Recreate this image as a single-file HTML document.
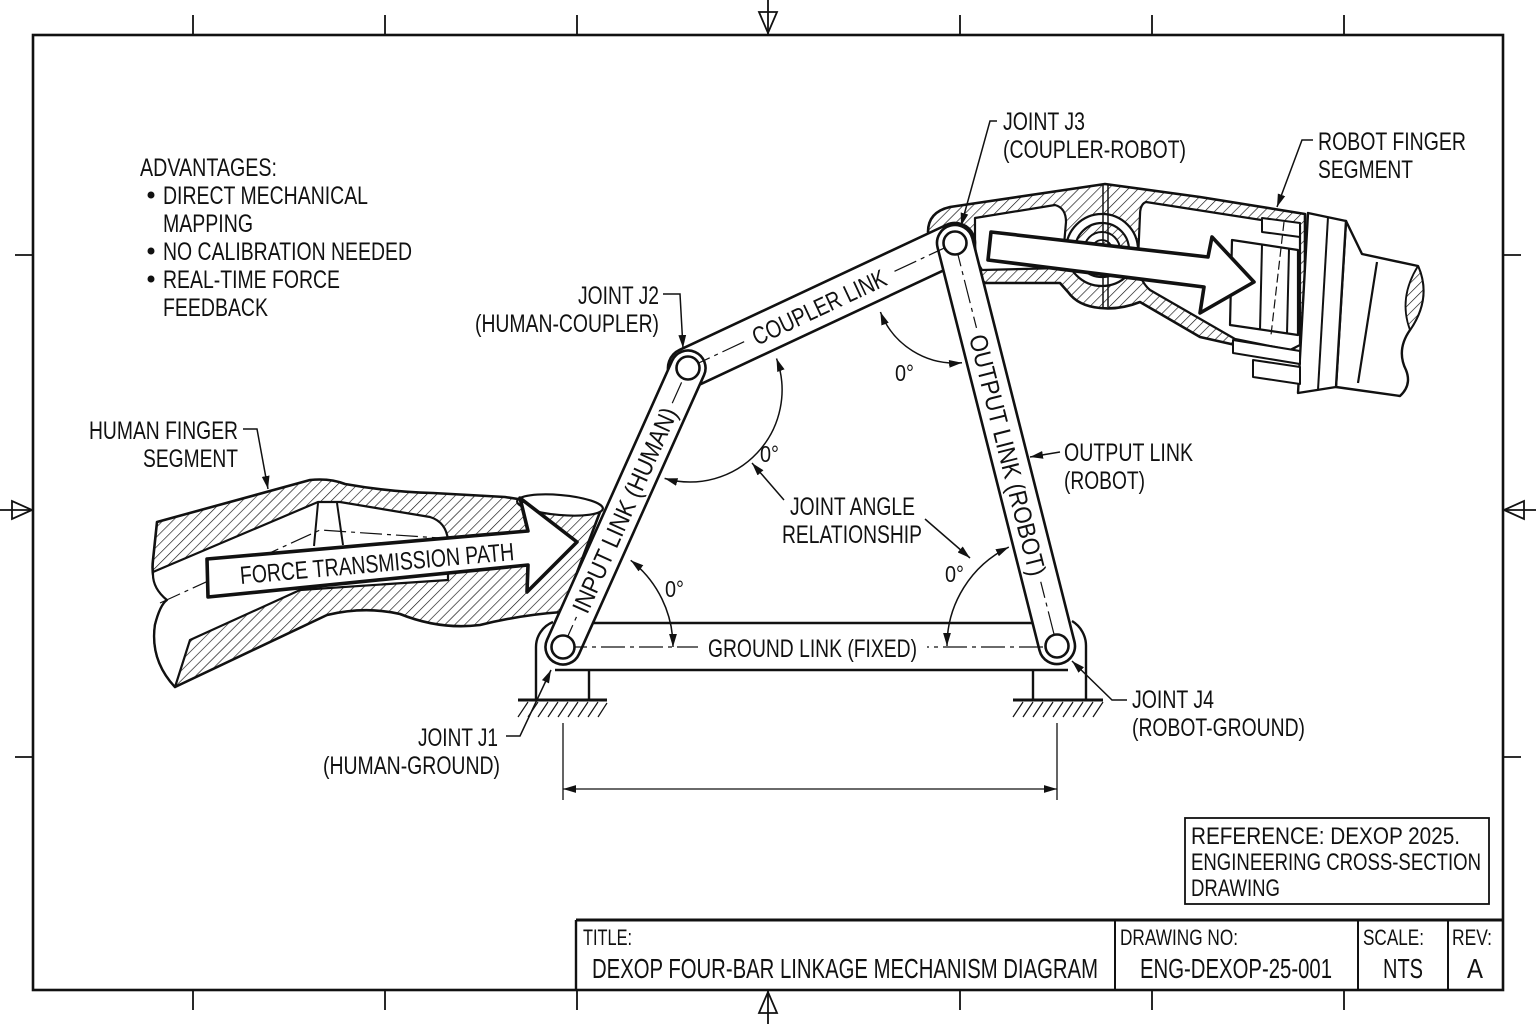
<!DOCTYPE html>
<html>
<head>
<meta charset="utf-8">
<style>
html,body{margin:0;padding:0;background:#fff;}
svg{display:block;}
text{font-family:"Liberation Sans",Arial,sans-serif;fill:#111;}
</style>
</head>
<body>
<svg width="1536" height="1024" viewBox="0 0 1536 1024" xmlns="http://www.w3.org/2000/svg">
<defs>
  <pattern id="h" width="7" height="7" patternUnits="userSpaceOnUse" patternTransform="rotate(45)">
    <rect width="7" height="7" fill="#fff"/>
    <line x1="0" y1="0" x2="0" y2="7" stroke="#111" stroke-width="1.3"/>
  </pattern>
  <marker id="a" viewBox="0 0 10 10" refX="10" refY="5" markerWidth="13" markerHeight="13" markerUnits="userSpaceOnUse" orient="auto-start-reverse">
    <path d="M0,2 L10,5 L0,8 Z" fill="#111"/>
  </marker>
</defs>
<rect width="1536" height="1024" fill="#fff"/>

<!-- BORDER -->
<g stroke="#111" fill="none">
  <rect x="33" y="35" width="1470" height="955" stroke-width="2.6"/>
  <g stroke-width="1.8">
    <line x1="193" y1="15" x2="193" y2="35"/><line x1="385" y1="15" x2="385" y2="35"/><line x1="577" y1="15" x2="577" y2="35"/>
    <line x1="960" y1="15" x2="960" y2="35"/><line x1="1152" y1="15" x2="1152" y2="35"/><line x1="1344" y1="15" x2="1344" y2="35"/>
    <line x1="193" y1="990" x2="193" y2="1010"/><line x1="385" y1="990" x2="385" y2="1010"/><line x1="577" y1="990" x2="577" y2="1010"/>
    <line x1="960" y1="990" x2="960" y2="1010"/><line x1="1152" y1="990" x2="1152" y2="1010"/><line x1="1344" y1="990" x2="1344" y2="1010"/>
    <line x1="15" y1="255" x2="33" y2="255"/><line x1="15" y1="757" x2="33" y2="757"/>
    <line x1="1503" y1="255" x2="1521" y2="255"/><line x1="1503" y1="757" x2="1521" y2="757"/>
    <line x1="768" y1="0" x2="768" y2="35"/><path d="M759,12 L777,12 L768,33 Z"/>
    <line x1="768" y1="990" x2="768" y2="1024"/><path d="M759,1013 L777,1013 L768,992 Z"/>
    <line x1="0" y1="510" x2="33" y2="510"/><path d="M12,501 L12,519 L32,510 Z"/>
    <line x1="1503" y1="510" x2="1536" y2="510"/><path d="M1524,501 L1524,519 L1504,510 Z"/>
  </g>
</g>

<!-- HUMAN FINGER -->
<g stroke="#111" stroke-linejoin="round">
  <path d="M157,522 L310,480 Q330,478 345,484 Q390,492 433,493 L505,497 L600,512 L562,612 Q520,615 480,625 Q440,630 400,614 Q365,606 327,615 L175,687 Q150,660 155,625 Q160,605 167,600 Q150,585 153,560 Z" fill="url(#h)" stroke-width="2.6"/>
  <path d="M153,572 L318,502 L340,502 L430,517 Q446,522 448,540 L448,580 L300,590 L190,640 L175,687 Q150,660 155,625 Q160,605 167,600 Q152,588 153,572 Z" fill="#fff" stroke-width="2.2"/>
  <path d="M175,687 Q150,660 155,625 Q160,605 167,600" fill="none" stroke-width="1.5"/>
  <line x1="318" y1="503" x2="314" y2="546" stroke-width="2"/>
  <line x1="337" y1="503" x2="343" y2="545" stroke-width="2"/>
  <polyline points="160,603 320,530 440,538" fill="none" stroke-width="1.2" stroke-dasharray="22 5 4 5"/>
  <ellipse cx="560" cy="505" rx="43" ry="10" transform="rotate(5 560 505)" fill="#fff" stroke-width="2.2"/>
  <path d="M207,559 L528,531 L520,498 L577,542 L527,592 L528,565 L208,597 Z" fill="#fff" stroke-width="3.6"/>
</g>
<text transform="translate(377,563) rotate(-5)" x="0" y="9" text-anchor="middle" font-size="25" textLength="275" lengthAdjust="spacingAndGlyphs">FORCE TRANSMISSION PATH</text>

<!-- ROBOT FINGER -->
<g stroke="#111" stroke-linejoin="round">
  <path d="M928,232 Q928,212 950,207 L1105,184 L1200,197 L1305,214 L1305,358 L1293,358 L1200,337 L1140,302 Q1120,310 1100,308 Q1078,306 1068,292 L1060,283 L985,283 Z" fill="url(#h)" stroke-width="2.6"/>
  <path d="M975,218 L1055,205 Q1066,208 1066,222 L1062,268 L982,270 Q975,260 975,240 Z" fill="#fff" stroke-width="2.2"/>
  <path d="M1146,202 L1300,226 L1300,345 L1290,350 L1235,339 L1150,290 Q1138,280 1138,260 L1140,215 Q1140,204 1146,202 Z" fill="#fff" stroke-width="2.2"/>
  <circle cx="1102" cy="250" r="36" fill="#fff" stroke-width="2.2"/>
  <circle cx="1102" cy="250" r="27" fill="url(#h)" stroke-width="2.2"/>
  <circle cx="1102" cy="250" r="18" fill="#fff" stroke-width="2"/>
  <circle cx="1102" cy="250" r="10" fill="url(#h)" stroke-width="1.8"/>
  <line x1="1103" y1="185" x2="1103" y2="307" stroke-width="1.5"/>
  <line x1="1108" y1="185" x2="1108" y2="307" stroke-width="1.5"/>
  <!-- end assembly -->
  <path d="M1346,221 L1362,254 L1418,266 Q1432,298 1410,330 Q1396,350 1406,370 Q1412,385 1400,396 L1336,387 Z" fill="#fff" stroke-width="2.4"/>
  <path d="M1418,266 Q1432,298 1410,330 Q1398,298 1418,266 Z" fill="url(#h)" stroke-width="1.8"/>
  <line x1="1377" y1="262" x2="1358" y2="383" stroke-width="2.2"/>
  <path d="M1308,213 L1346,221 L1336,387 L1298,393 Z" fill="#fff" stroke-width="2.4"/>
  <line x1="1328" y1="217" x2="1318" y2="390" stroke-width="2"/>
  <path d="M1262,218 L1300,223 L1300,237 L1262,232 Z" fill="#fff" stroke-width="2"/>
  <path d="M1232,240 L1298,250 L1298,335 L1230,325 Z" fill="#fff" stroke-width="2.2"/>
  <line x1="1262" y1="245" x2="1260" y2="330" stroke-width="2"/>
  <line x1="1289" y1="249" x2="1287" y2="334" stroke-width="2"/>
  <path d="M1233,340 L1300,351 L1300,364 L1233,353 Z" fill="#fff" stroke-width="2"/>
  <path d="M1253,360 L1300,367 L1300,384 L1253,377 Z" fill="#fff" stroke-width="2"/>
  <line x1="1284" y1="222" x2="1271" y2="335" stroke-width="1.2" stroke-dasharray="9 4"/>
  <path d="M991,232 L1208,257 L1212,237 L1254,282 L1200,313 L1204,287 L988,260 Z" fill="#fff" stroke-width="3.6"/>
</g>

<!-- GROUND SUPPORTS -->
<g stroke="#111" fill="none">
  <line x1="518" y1="700" x2="607" y2="700" stroke-width="3"/>
  <line x1="1013" y1="700" x2="1103" y2="700" stroke-width="3"/>
  <line x1="589" y1="670" x2="589" y2="700" stroke-width="2.4"/>
  <line x1="1033" y1="670" x2="1033" y2="700" stroke-width="2.4"/>
  <path d="M536,700 L536,647 A27,27 0 0 1 553,622" stroke-width="2.4"/>
  <path d="M1086,700 L1086,646 A29,29 0 0 0 1072,621" stroke-width="2.4"/>
  <g stroke-width="1.2">
    <line x1="518" y1="717" x2="528" y2="702"/><line x1="528" y1="717" x2="538" y2="702"/><line x1="538" y1="717" x2="548" y2="702"/>
    <line x1="548" y1="717" x2="558" y2="702"/><line x1="558" y1="717" x2="568" y2="702"/><line x1="568" y1="717" x2="578" y2="702"/>
    <line x1="578" y1="717" x2="588" y2="702"/><line x1="588" y1="717" x2="598" y2="702"/><line x1="598" y1="717" x2="607" y2="703"/>
    <line x1="1013" y1="717" x2="1023" y2="702"/><line x1="1023" y1="717" x2="1033" y2="702"/><line x1="1033" y1="717" x2="1043" y2="702"/>
    <line x1="1043" y1="717" x2="1053" y2="702"/><line x1="1053" y1="717" x2="1063" y2="702"/><line x1="1063" y1="717" x2="1073" y2="702"/>
    <line x1="1073" y1="717" x2="1083" y2="702"/><line x1="1083" y1="717" x2="1093" y2="702"/><line x1="1093" y1="717" x2="1103" y2="702"/>
  </g>
</g>

<!-- GROUND LINK -->
<rect x="560" y="623" width="500" height="47" fill="#fff"/>
<line x1="575" y1="623" x2="1045" y2="623" stroke="#111" stroke-width="2.6"/>
<line x1="555" y1="670" x2="1068" y2="670" stroke="#111" stroke-width="2.6"/>

<!-- LINKS -->
<g fill="#fff" stroke="#111" stroke-width="2.6">
  <g transform="translate(688,368) rotate(-25.09)"><rect x="-20" y="-20" width="334.8" height="40" rx="20"/></g>
  <g transform="translate(563,647) rotate(-65.86)"><rect x="-17.5" y="-17.5" width="340.7" height="35" rx="17.5"/></g>
  <g transform="translate(955,243) rotate(75.8)"><rect x="-18" y="-18" width="451.7" height="36" rx="18"/></g>
</g>

<!-- CENTERLINES -->
<g stroke="#111" stroke-width="1.2" stroke-dasharray="24 5 4 5" fill="none">
  <line x1="563" y1="647" x2="1057" y2="647"/>
  <line x1="563" y1="647" x2="688" y2="368"/>
  <line x1="688" y1="368" x2="955" y2="243"/>
  <line x1="955" y1="243" x2="1057" y2="646"/>
</g>

<!-- LINK LABELS -->
<rect x="698" y="635" width="229" height="26" fill="#fff"/>
<text x="708" y="657" font-size="25" textLength="209" lengthAdjust="spacingAndGlyphs">GROUND LINK (FIXED)</text>
<g transform="translate(624.4,510) rotate(-65.86)">
  <rect x="-117" y="-13" width="234" height="26" fill="#fff"/>
  <text x="0" y="9" text-anchor="middle" font-size="25" textLength="222" lengthAdjust="spacingAndGlyphs">INPUT LINK (HUMAN)</text>
</g>
<g transform="translate(819,307) rotate(-25.09)">
  <rect x="-80" y="-13" width="160" height="26" fill="#fff"/>
  <text x="0" y="9" text-anchor="middle" font-size="25" textLength="145" lengthAdjust="spacingAndGlyphs">COUPLER LINK</text>
</g>
<g transform="translate(1008,455) rotate(75.8)">
  <rect x="-131" y="-13" width="262" height="26" fill="#fff"/>
  <text x="0" y="9" text-anchor="middle" font-size="25" textLength="248" lengthAdjust="spacingAndGlyphs">OUTPUT LINK (ROBOT)</text>
</g>

<!-- PINS -->
<g fill="#fff" stroke="#111" stroke-width="2.6">
  <circle cx="563" cy="647" r="11.5"/>
  <circle cx="688" cy="368" r="11.5"/>
  <circle cx="955" cy="243" r="11.5"/>
  <circle cx="1057" cy="646" r="11.5"/>
</g>

<!-- ANGLE ARCS -->
<g stroke="#111" stroke-width="1.5" fill="none" marker-start="url(#a)" marker-end="url(#a)">
  <path d="M630.7,560.3 A110,110 0 0 1 673,647"/>
  <path d="M947,646 A110,110 0 0 1 1008.8,547.1"/>
  <path d="M776.5,358.5 A92,92 0 0 1 664.6,478.4"/>
  <path d="M880.4,312 A80,80 0 0 0 962,362.7"/>
</g>
<g font-size="23">
  <text x="665" y="597" textLength="19" lengthAdjust="spacingAndGlyphs">0°</text>
  <text x="760" y="462" textLength="19" lengthAdjust="spacingAndGlyphs">0°</text>
  <text x="895" y="381" textLength="19" lengthAdjust="spacingAndGlyphs">0°</text>
  <text x="945" y="582" textLength="19" lengthAdjust="spacingAndGlyphs">0°</text>
</g>

<!-- LEADERS -->
<g stroke="#111" stroke-width="1.5" fill="none">
  <polyline points="663,294 680,294 683,348" marker-end="url(#a)"/>
  <polyline points="997,121 990,121 961,226" marker-end="url(#a)"/>
  <polyline points="1313,140 1302,140 1277,207" marker-end="url(#a)"/>
  <polyline points="243,429 257,429 268,489" marker-end="url(#a)"/>
  <polyline points="1060,452 1030,457" marker-end="url(#a)"/>
  <polyline points="1127,700 1112,700 1072,661" marker-end="url(#a)"/>
  <polyline points="506,736 520,736 551,670" marker-end="url(#a)"/>
  <line x1="784" y1="500" x2="752" y2="463" marker-end="url(#a)"/>
  <line x1="925" y1="519" x2="970" y2="558" marker-end="url(#a)"/>
</g>

<!-- DIMENSION -->
<g stroke="#111" stroke-width="1.3" fill="none">
  <line x1="563" y1="723" x2="563" y2="800"/>
  <line x1="1057" y1="723" x2="1057" y2="800"/>
  <line x1="563" y1="789" x2="1057" y2="789" marker-start="url(#a)" marker-end="url(#a)"/>
</g>

<!-- LABEL TEXT -->
<g font-size="25" lengthAdjust="spacingAndGlyphs">
  <text x="140" y="176" textLength="137" lengthAdjust="spacingAndGlyphs">ADVANTAGES:</text>
  <text x="163" y="204" textLength="205" lengthAdjust="spacingAndGlyphs">DIRECT MECHANICAL</text>
  <text x="163" y="232" textLength="90" lengthAdjust="spacingAndGlyphs">MAPPING</text>
  <text x="163" y="260" textLength="249" lengthAdjust="spacingAndGlyphs">NO CALIBRATION NEEDED</text>
  <text x="163" y="288" textLength="177" lengthAdjust="spacingAndGlyphs">REAL-TIME FORCE</text>
  <text x="163" y="316" textLength="105" lengthAdjust="spacingAndGlyphs">FEEDBACK</text>
  <text x="578" y="304" textLength="81" lengthAdjust="spacingAndGlyphs">JOINT J2</text>
  <text x="475" y="332" textLength="184" lengthAdjust="spacingAndGlyphs">(HUMAN-COUPLER)</text>
  <text x="89" y="439" textLength="149" lengthAdjust="spacingAndGlyphs">HUMAN FINGER</text>
  <text x="143" y="467" textLength="95" lengthAdjust="spacingAndGlyphs">SEGMENT</text>
  <text x="1003" y="130" textLength="82" lengthAdjust="spacingAndGlyphs">JOINT J3</text>
  <text x="1003" y="158" textLength="183" lengthAdjust="spacingAndGlyphs">(COUPLER-ROBOT)</text>
  <text x="1318" y="150" textLength="148" lengthAdjust="spacingAndGlyphs">ROBOT FINGER</text>
  <text x="1318" y="178" textLength="95" lengthAdjust="spacingAndGlyphs">SEGMENT</text>
  <text x="1064" y="461" textLength="129" lengthAdjust="spacingAndGlyphs">OUTPUT LINK</text>
  <text x="1064" y="489" textLength="81" lengthAdjust="spacingAndGlyphs">(ROBOT)</text>
  <text x="790" y="515" textLength="125" lengthAdjust="spacingAndGlyphs">JOINT ANGLE</text>
  <text x="782" y="543" textLength="140" lengthAdjust="spacingAndGlyphs">RELATIONSHIP</text>
  <text x="1132" y="708" textLength="82" lengthAdjust="spacingAndGlyphs">JOINT J4</text>
  <text x="1132" y="736" textLength="173" lengthAdjust="spacingAndGlyphs">(ROBOT-GROUND)</text>
  <text x="418" y="746" textLength="80" lengthAdjust="spacingAndGlyphs">JOINT J1</text>
  <text x="323" y="774" textLength="177" lengthAdjust="spacingAndGlyphs">(HUMAN-GROUND)</text>
</g>
<g fill="#111">
  <circle cx="151" cy="195" r="3.5"/>
  <circle cx="151" cy="251" r="3.5"/>
  <circle cx="151" cy="279" r="3.5"/>
</g>

<!-- REFERENCE BOX -->
<rect x="1185" y="818" width="304" height="86" fill="#fff" stroke="#111" stroke-width="1.8"/>
<g font-size="24">
  <text x="1191" y="844" textLength="269" lengthAdjust="spacingAndGlyphs">REFERENCE: DEXOP 2025.</text>
  <text x="1191" y="870" textLength="290" lengthAdjust="spacingAndGlyphs">ENGINEERING CROSS-SECTION</text>
  <text x="1191" y="896" textLength="89" lengthAdjust="spacingAndGlyphs">DRAWING</text>
</g>

<!-- TITLE BLOCK -->
<g stroke="#111" fill="none">
  <line x1="576" y1="920" x2="1503" y2="920" stroke-width="3"/>
  <line x1="576" y1="920" x2="576" y2="990" stroke-width="2.4"/>
  <line x1="1115" y1="920" x2="1115" y2="990" stroke-width="2"/>
  <line x1="1358" y1="920" x2="1358" y2="990" stroke-width="2"/>
  <line x1="1448" y1="920" x2="1448" y2="990" stroke-width="2"/>
</g>
<g font-size="22">
  <text x="583" y="945" textLength="49" lengthAdjust="spacingAndGlyphs">TITLE:</text>
  <text x="1120" y="945" textLength="118" lengthAdjust="spacingAndGlyphs">DRAWING NO:</text>
  <text x="1363" y="945" textLength="61" lengthAdjust="spacingAndGlyphs">SCALE:</text>
  <text x="1452" y="945" textLength="40" lengthAdjust="spacingAndGlyphs">REV:</text>
</g>
<g font-size="28">
  <text x="592" y="978" textLength="506" lengthAdjust="spacingAndGlyphs">DEXOP FOUR-BAR LINKAGE MECHANISM DIAGRAM</text>
  <text x="1140" y="978" textLength="192" lengthAdjust="spacingAndGlyphs">ENG-DEXOP-25-001</text>
  <text x="1383" y="978" textLength="40" lengthAdjust="spacingAndGlyphs">NTS</text>
  <text x="1467" y="978" textLength="16" lengthAdjust="spacingAndGlyphs">A</text>
</g>
</svg>
</body>
</html>
